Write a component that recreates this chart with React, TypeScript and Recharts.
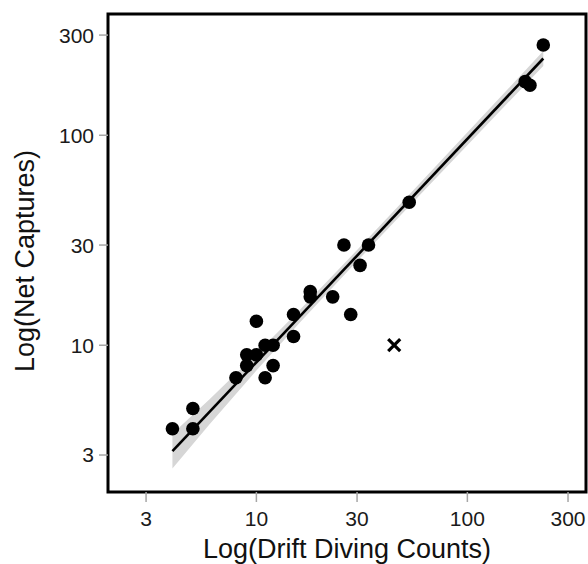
import {
  Area,
  ComposedChart,
  Label,
  Line,
  ReferenceArea,
  Scatter,
  XAxis,
  YAxis,
} from "recharts";

// axis ticks
const xTicks = [3, 10, 30, 100, 300];
const yTicks = [3, 10, 30, 100, 300];

// sites
const driftCounts = [4, 5, 5, 8, 11, 9, 12, 9, 10, 11, 12, 10, 15, 15, 18, 18, 23, 26, 28, 31, 34, 53, 188, 198, 229];
const netCaptures = [4, 5, 4, 7, 7, 8, 8, 9, 9, 10, 10, 13, 11, 14, 18, 17, 17, 30, 14, 24, 30, 48, 180, 173, 269];

// excluded site (cross)
const outlierDrift = [45];
const outlierNet = [10];

// fitted line ends
const fitDrift = [4, 229];
const fitNet = [3.13, 232];

// confidence band
const bandDrift = [4, 6, 10, 16, 30, 60, 120, 229];
const bandLow = [2.59, 4.2, 7.57, 12.76, 25.1, 52.4, 108.7, 214];
const bandHigh = [3.79, 5.53, 9.1, 14.66, 28.4, 59.6, 125.4, 252];

const points = driftCounts.map((x, i) => ({ x, y: netCaptures[i] }));
const outliers = outlierDrift.map((x, i) => ({ x, y: outlierNet[i] }));
const fit = fitDrift.map((x, i) => ({ x, y: fitNet[i] }));
const band = bandDrift.map((x, i) => ({ x, band: [bandLow[i], bandHigh[i]] }));

const X_DOMAIN: [number, number] = [1.98, 365];
const Y_DOMAIN: [number, number] = [2.0, 378];

const FONT = "'Liberation Sans', Arial, sans-serif";
const tickStyle = { fontSize: 21, fill: "#1a1a1a", fontFamily: FONT };

function Cross(props: { cx?: number; cy?: number }) {
  const { cx = 0, cy = 0 } = props;
  const s = 6;
  return (
    <g stroke="#000" strokeWidth={3.2} strokeLinecap="butt">
      <line x1={cx - s} y1={cy - s} x2={cx + s} y2={cy + s} />
      <line x1={cx - s} y1={cy + s} x2={cx + s} y2={cy - s} />
    </g>
  );
}

function Dot(props: { cx?: number; cy?: number }) {
  const { cx = 0, cy = 0 } = props;
  return <circle cx={cx} cy={cy} r={6.8} fill="#000" />;
}

function XTitle({ viewBox }: any) {
  const { x, width } = viewBox;
  return (
    <text x={x + width / 2} y={558} textAnchor="middle" fontSize={27} fontFamily={FONT} fill="#111">
      Log(Drift Diving Counts)
    </text>
  );
}

function YTitle() {
  return (
    <text
      x={0}
      y={0}
      transform="translate(34, 261) rotate(-90)"
      textAnchor="middle"
      fontSize={27}
      fontFamily={FONT}
      fill="#111"
    >
      Log(Net Captures)
    </text>
  );
}

export default function App() {
  return (
    <div style={{ position: "absolute", left: 0, top: 0, width: 588, height: 564, background: "#fff" }}>
      <ComposedChart width={588} height={564} margin={{ top: 14, right: 2, bottom: 0, left: 0 }}>
        <XAxis
          dataKey="x"
          type="number"
          scale="log"
          domain={X_DOMAIN}
          allowDataOverflow
          ticks={xTicks}
          height={72}
          axisLine={false}
          tickSize={10}
          tickMargin={9}
          tickLine={{ stroke: "#a6a6a6", strokeWidth: 1.5 }}
          tick={tickStyle}
        >
          <Label content={<XTitle />} />
        </XAxis>
        <YAxis
          type="number"
          scale="log"
          domain={Y_DOMAIN}
          allowDataOverflow
          ticks={yTicks}
          width={108}
          axisLine={false}
          tickSize={9}
          tickMargin={5}
          tickLine={{ stroke: "#a6a6a6", strokeWidth: 1.5 }}
          tick={tickStyle}
        >
          <Label content={<YTitle />} />
        </YAxis>
        <Area
          data={band}
          dataKey="band"
          type="linear"
          stroke="none"
          fill="#d6d6d6"
          fillOpacity={1}
          isAnimationActive={false}
          activeDot={false}
        />
        <Line
          data={fit}
          dataKey="y"
          type="linear"
          stroke="#000"
          strokeWidth={2.6}
          dot={false}
          activeDot={false}
          isAnimationActive={false}
        />
        <Scatter data={points} dataKey="y" shape={<Dot />} isAnimationActive={false} />
        <Scatter data={outliers} dataKey="y" shape={<Cross />} isAnimationActive={false} />
        <ReferenceArea
          x1={X_DOMAIN[0]}
          x2={X_DOMAIN[1]}
          y1={Y_DOMAIN[0]}
          y2={Y_DOMAIN[1]}
          fill="none"
          stroke="#000"
          strokeWidth={3}
          ifOverflow="visible"
        />
      </ComposedChart>
    </div>
  );
}
